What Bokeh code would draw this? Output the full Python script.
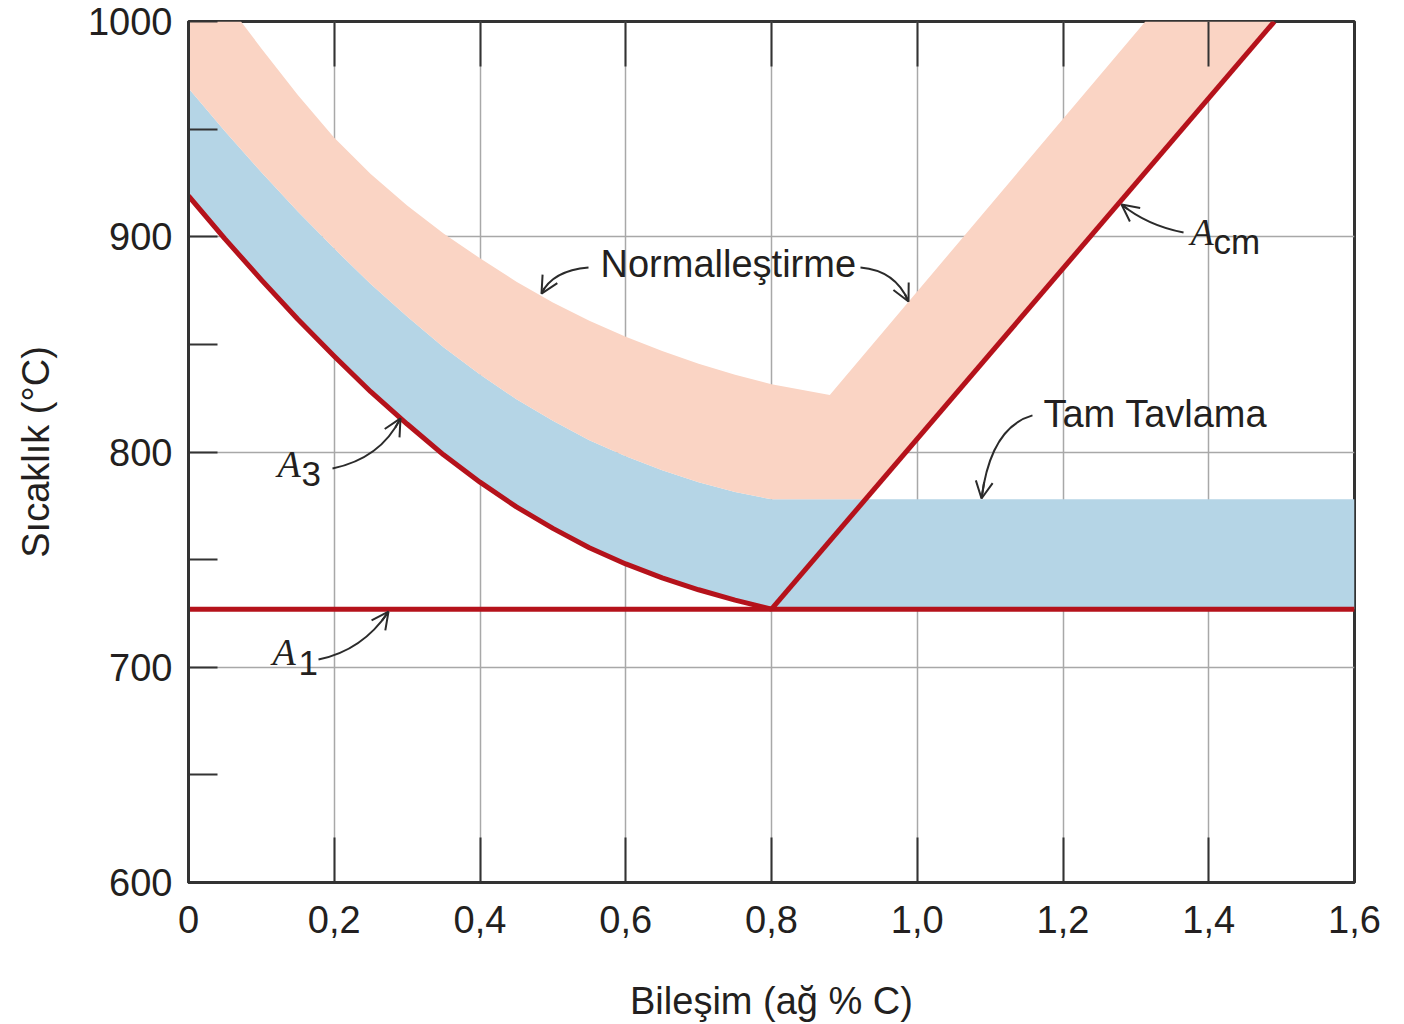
from bokeh.plotting import figure
from bokeh.models import (LinearAxis, FixedTicker, Arrow, OpenHead, Range1d,
                          CustomJSTickFormatter)
from bokeh.embed import file_html
from bokeh.resources import INLINE
from bokeh.core.properties import value

# ---------------- data ----------------
# A3 line (hypoeutectoid upper critical temperature)
a3_x = [0.00, 0.05, 0.10, 0.15, 0.20, 0.25, 0.30, 0.35, 0.40, 0.45,
        0.50, 0.55, 0.60, 0.65, 0.70, 0.75, 0.80]
a3_t = [919, 899, 880, 861.7, 844.5, 828, 813, 798.7, 786, 774.5,
        764.5, 755.5, 748, 741.5, 736, 731.2, 727]
# upper edge of full-annealing band (left part)
anneal_top = [969, 949, 930, 911.7, 894.5, 878, 863, 848.7, 836, 824.5,
              814.5, 805.5, 798, 791.5, 786, 781.4, 778]
anneal_flat_t = 778          # flat top for x > 0.8
# A1 eutectoid line
a1_x = [0.0, 1.6]
a1_t = [727, 727]
# Acm line
acm_x = [0.80, 1.49]
acm_t = [727, 1000]
# upper edge of normalizing band
norm_x = [0.072, 0.10, 0.15, 0.20, 0.25, 0.30, 0.35, 0.40, 0.45, 0.50,
          0.55, 0.60, 0.65, 0.70, 0.75, 0.80, 0.88]
norm_t = [1000, 987.5, 965.8, 946, 929.2, 914.5, 901.5, 890, 879.1, 869.5,
          861, 853.5, 846.9, 841, 835.9, 831.5, 826.5]
norm_right_top_x = 1.313     # where the right branch leaves the top

x_ticks = [0, 0.2, 0.4, 0.6, 0.8, 1.0, 1.2, 1.4, 1.6]
y_ticks = [600, 700, 800, 900, 1000]
y_minor = [650, 750, 850, 950]
y_grid = [700, 800, 900]

# annotation arrows: tail, control, head (data units)
arr_tail_x = [0.1976, 0.1784, 0.5489, 0.9221, 1.1581, 1.3654]
arr_tail_y = [792.3, 703.6, 885.7, 885.7, 817.0, 902.0]
arr_ctrl_x = [0.2635, 0.2388, 0.4995, 0.9702, 1.1005, 1.3160]
arr_ctrl_y = [797.0, 707.8, 884.3, 884.3, 811.4, 905.2]
arr_head_x = [0.2909, 0.2744, 0.4844, 0.9880, 1.0882, 1.2803]
arr_head_y = [815.6, 725.8, 873.6, 869.9, 778.4, 915.0]

label_text = ["Normalleştirme", "Tam Tavlama"]
label_x = [0.5654, 1.1732]
label_y = [887.4, 817.7]

sym_x = [0.1221, 0.1153, 1.3750]
sym_y = [794.5, 707.1, 902.2]
sub_text = ["3", "1", "cm"]
sub_x = [0.1551, 0.1510, 1.4065]
sub_y = [789.8, 702.0, 897.6]

# ---------------- styling ----------------
PINK = "#FAD4C4"
BLUE = "#B5D5E6"
RED = "#B5121B"
INK = "#231F20"
FONT = "Liberation Sans"

p = figure(frame_width=1166, frame_height=861,
           x_range=Range1d(0, 1.6), y_range=Range1d(600, 1000),
           output_backend="svg", toolbar_location=None,
           min_border_left=188, min_border_right=44,
           min_border_top=21, min_border_bottom=140,
           background_fill_color="white", border_fill_color="white")

# grid
p.xgrid.ticker = FixedTicker(ticks=x_ticks)
p.ygrid.ticker = FixedTicker(ticks=y_grid)
for g in (p.xgrid, p.ygrid):
    g.grid_line_color = "#A8A8A8"
    g.grid_line_width = 1.5

p.outline_line_color = "#333333"
p.outline_line_width = 3

# bottom axis
xa = p.xaxis[0]
xa.ticker = FixedTicker(ticks=x_ticks)
xa.formatter = CustomJSTickFormatter(
    code="return tick == 0 ? '0' : tick.toFixed(1).replace('.', ',');")
xa.axis_label = "Bileşim (ağ % C)"
# left axis
ya = p.yaxis[0]
ya.ticker = FixedTicker(ticks=y_ticks, minor_ticks=y_minor)
ya.axis_label = "Sıcaklık (°C)"

for ax in (xa, ya):
    ax.major_tick_out = 0
    ax.minor_tick_out = 0
    ax.axis_line_color = "#333333"
    ax.axis_line_width = 3
    ax.major_tick_line_color = "#333333"
    ax.major_tick_line_width = 2
    ax.minor_tick_line_color = "#333333"
    ax.minor_tick_line_width = 2
    ax.major_label_text_font = FONT
    ax.major_label_text_font_size = "38px"
    ax.major_label_text_color = INK
    ax.axis_label_text_font = FONT
    ax.axis_label_text_font_size = "38px"
    ax.axis_label_text_font_style = "normal"
    ax.axis_label_text_color = INK

xa.major_tick_in = 45
xa.minor_tick_in = 0
xa.major_label_standoff = 23
xa.axis_label_standoff = 44
ya.major_tick_in = 29
ya.minor_tick_in = 29
ya.major_label_standoff = 16
ya.axis_label_standoff = 28

# top edge: inward ticks only (minor ticks, so no labels are created)
top = LinearAxis(ticker=FixedTicker(ticks=[], minor_ticks=x_ticks),
                 major_tick_in=0, major_tick_out=0,
                 minor_tick_in=45, minor_tick_out=0,
                 axis_line_color=None, minor_tick_line_color="#333333",
                 minor_tick_line_width=2, major_label_standoff=0)
p.add_layout(top, "above")

# ---------------- bands ----------------
acm_slope = (acm_t[1] - acm_t[0]) / (acm_x[1] - acm_x[0])
# full annealing (blue)
blue_x = a3_x + [1.6, 1.6, a3_x[-1]] + a3_x[::-1]
blue_y = anneal_top + [anneal_flat_t, a1_t[1], a1_t[0]] + a3_t[::-1]
p.patch(blue_x, blue_y, fill_color=BLUE, line_color=None)

# normalizing (pink)
x_meet = acm_x[0] + (anneal_flat_t - acm_t[0]) / acm_slope
pink_x = [0.0] + norm_x + [norm_right_top_x, acm_x[1], x_meet] + a3_x[::-1]
pink_y = [1000] + norm_t + [1000, acm_t[1], anneal_flat_t] + anneal_top[::-1]
p.patch(pink_x, pink_y, fill_color=PINK, line_color=None)

# ---------------- critical lines ----------------
p.line(a3_x, a3_t, line_color=RED, line_width=5, line_join="round")
p.line(a1_x, a1_t, line_color=RED, line_width=5)
p.line(acm_x, acm_t, line_color=RED, line_width=5)

# ---------------- arrows ----------------
ARROW = "#2B2B2B"
p.quadratic(x0=arr_tail_x, y0=arr_tail_y, x1=arr_head_x, y1=arr_head_y,
            cx=arr_ctrl_x, cy=arr_ctrl_y, line_color=ARROW, line_width=2)
for i in range(len(arr_head_x)):
    t = 0.88
    bx = (1 - t) ** 2 * arr_tail_x[i] + 2 * (1 - t) * t * arr_ctrl_x[i] + t ** 2 * arr_head_x[i]
    by = (1 - t) ** 2 * arr_tail_y[i] + 2 * (1 - t) * t * arr_ctrl_y[i] + t ** 2 * arr_head_y[i]
    p.add_layout(Arrow(end=OpenHead(size=17, line_width=2, line_color=ARROW),
                       x_start=bx, y_start=by,
                       x_end=arr_head_x[i], y_end=arr_head_y[i],
                       line_color=ARROW, line_width=2))

# ---------------- labels ----------------
p.text(x=label_x, y=label_y, text=label_text, text_font=value(FONT),
       text_font_size="38px", text_color=INK, text_align="left",
       text_baseline="alphabetic")
p.text(x=sym_x, y=sym_y, text=["A", "A", "A"], text_font=value("Liberation Serif"),
       text_font_style="italic", text_font_size="38px", text_color=INK,
       text_align="left", text_baseline="alphabetic")
p.text(x=sub_x, y=sub_y, text=sub_text, text_font=value(FONT),
       text_font_size="35px", text_color=INK, text_align="left",
       text_baseline="alphabetic")

open("out.html", "w").write(file_html(p, INLINE))
